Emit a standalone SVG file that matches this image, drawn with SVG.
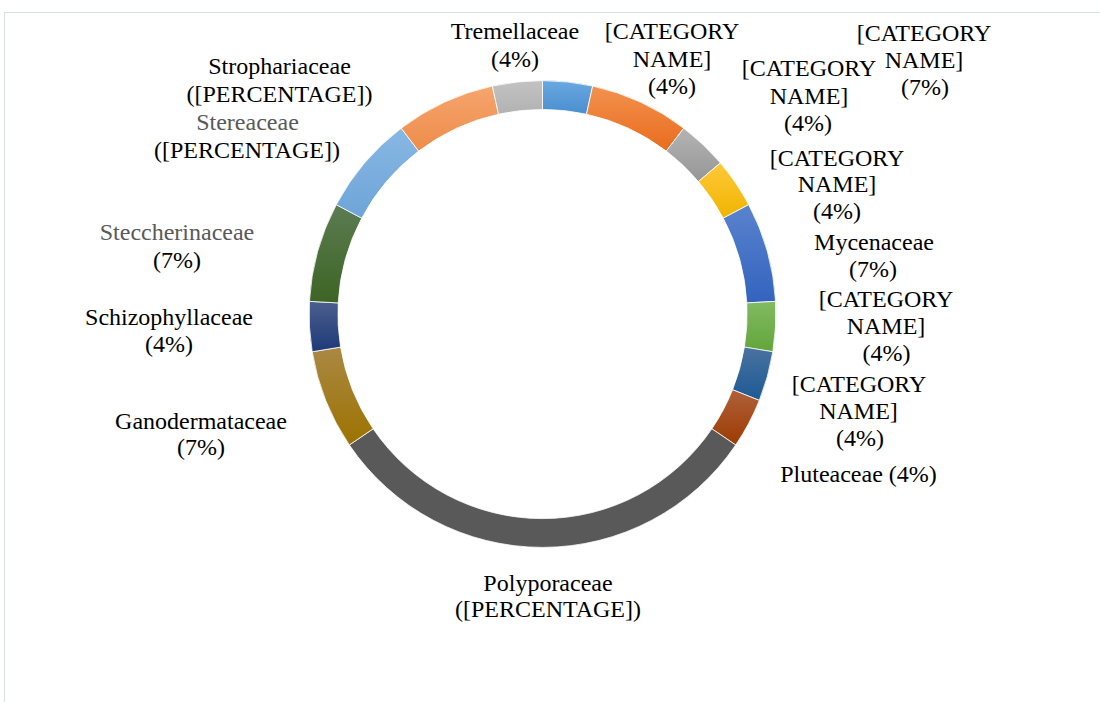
<svg xmlns="http://www.w3.org/2000/svg" width="1100" height="702" viewBox="0 0 1100 702">
<style>
.lbl{font-family:"Liberation Serif","Times New Roman",serif;font-size:24px;fill:#000;text-anchor:middle}
.gray{fill:#595959}
.seg{stroke:#ffffff;stroke-width:0.8;stroke-linejoin:round}
</style>
<defs>
<linearGradient id="g0" x1="0" y1="0" x2="0" y2="1"><stop offset="0" stop-color="#6aa9e0"/><stop offset="1" stop-color="#4a8ecf"/></linearGradient>
<linearGradient id="g1" x1="0" y1="0" x2="0" y2="1"><stop offset="0" stop-color="#f3914f"/><stop offset="1" stop-color="#e96c1d"/></linearGradient>
<linearGradient id="g2" x1="0" y1="0" x2="0" y2="1"><stop offset="0" stop-color="#b4b4b4"/><stop offset="1" stop-color="#969696"/></linearGradient>
<linearGradient id="g3" x1="0" y1="0" x2="0" y2="1"><stop offset="0" stop-color="#ffc93a"/><stop offset="1" stop-color="#f0b400"/></linearGradient>
<linearGradient id="g4" x1="0" y1="0" x2="0" y2="1"><stop offset="0" stop-color="#5a83cd"/><stop offset="1" stop-color="#3363bf"/></linearGradient>
<linearGradient id="g5" x1="0" y1="0" x2="0" y2="1"><stop offset="0" stop-color="#82bb62"/><stop offset="1" stop-color="#63a43a"/></linearGradient>
<linearGradient id="g6" x1="0" y1="0" x2="0" y2="1"><stop offset="0" stop-color="#4a72a0"/><stop offset="1" stop-color="#1c5a93"/></linearGradient>
<linearGradient id="g7" x1="0" y1="0" x2="0" y2="1"><stop offset="0" stop-color="#b0603c"/><stop offset="1" stop-color="#9c3c00"/></linearGradient>
<linearGradient id="g9" x1="0" y1="0" x2="0" y2="1"><stop offset="0" stop-color="#aa8844"/><stop offset="1" stop-color="#9c7300"/></linearGradient>
<linearGradient id="g10" x1="0" y1="0" x2="0" y2="1"><stop offset="0" stop-color="#4c5e8e"/><stop offset="1" stop-color="#1d3a77"/></linearGradient>
<linearGradient id="g11" x1="0" y1="0" x2="0" y2="1"><stop offset="0" stop-color="#5c7c52"/><stop offset="1" stop-color="#3d6424"/></linearGradient>
<linearGradient id="g12" x1="0" y1="0" x2="0" y2="1"><stop offset="0" stop-color="#88b8e4"/><stop offset="1" stop-color="#6ea4d8"/></linearGradient>
<linearGradient id="g13" x1="0" y1="0" x2="0" y2="1"><stop offset="0" stop-color="#f5a56e"/><stop offset="1" stop-color="#ee8c4a"/></linearGradient>
<linearGradient id="g14" x1="0" y1="0" x2="0" y2="1"><stop offset="0" stop-color="#c2c2c2"/><stop offset="1" stop-color="#b2b2b2"/></linearGradient>
</defs>
<rect x="0" y="0" width="1100" height="702" fill="#ffffff"/>
<rect x="4.5" y="12.5" width="1200" height="800" fill="none" stroke="#d9dee5" stroke-width="1"/>
<g id="connectors"></g>
<g id="seg-cat-a">
<path class="seg" fill="url(#g0)" d="M542.5,80.6 A233.4,233.4 0 0 1 592.67,86.06 L586.48,114.18 A204.6,204.6 0 0 0 542.5,109.4 Z"/>
<text class="lbl"><tspan x="672" y="39">[CATEGORY</tspan><tspan x="672" y="66.5">NAME]</tspan><tspan x="672" y="94">(4%)</tspan></text>
</g>
<g id="seg-cat-b">
<path class="seg" fill="url(#g1)" d="M592.67,86.06 A233.4,233.4 0 0 1 683.75,128.19 L666.32,151.12 A204.6,204.6 0 0 0 586.48,114.18 Z"/>
<text class="lbl"><tspan x="924" y="41">[CATEGORY</tspan><tspan x="924" y="68">NAME]</tspan><tspan x="925" y="95">(7%)</tspan></text>
</g>
<g id="seg-cat-c">
<path class="seg" fill="url(#g2)" d="M683.75,128.19 A233.4,233.4 0 0 1 720.39,162.90 L698.44,181.54 A204.6,204.6 0 0 0 666.32,151.12 Z"/>
<text class="lbl"><tspan x="809" y="76">[CATEGORY</tspan><tspan x="809" y="103.5">NAME]</tspan><tspan x="808" y="131">(4%)</tspan></text>
</g>
<g id="seg-cat-d">
<path class="seg" fill="url(#g3)" d="M720.39,162.90 A233.4,233.4 0 0 1 748.71,204.67 L723.27,218.16 A204.6,204.6 0 0 0 698.44,181.54 Z"/>
<text class="lbl"><tspan x="837" y="165.5">[CATEGORY</tspan><tspan x="837" y="192">NAME]</tspan><tspan x="837" y="218.5">(4%)</tspan></text>
</g>
<g id="seg-mycenaceae">
<path class="seg" fill="url(#g4)" d="M748.71,204.67 A233.4,233.4 0 0 1 775.56,301.36 L746.80,302.92 A204.6,204.6 0 0 0 723.27,218.16 Z"/>
<text class="lbl"><tspan x="874" y="250">Mycenaceae</tspan><tspan x="873" y="277">(7%)</tspan></text>
</g>
<g id="seg-cat-e">
<path class="seg" fill="url(#g5)" d="M775.56,301.36 A233.4,233.4 0 0 1 772.82,351.76 L744.40,347.10 A204.6,204.6 0 0 0 746.80,302.92 Z"/>
<text class="lbl"><tspan x="886" y="307">[CATEGORY</tspan><tspan x="886" y="334">NAME]</tspan><tspan x="886.5" y="361">(4%)</tspan></text>
</g>
<g id="seg-cat-f">
<path class="seg" fill="url(#g6)" d="M772.82,351.76 A233.4,233.4 0 0 1 759.32,400.39 L732.57,389.73 A204.6,204.6 0 0 0 744.40,347.10 Z"/>
<text class="lbl"><tspan x="859" y="392">[CATEGORY</tspan><tspan x="858.5" y="419">NAME]</tspan><tspan x="860" y="446">(4%)</tspan></text>
</g>
<g id="seg-pluteaceae">
<path class="seg" fill="url(#g7)" d="M759.32,400.39 A233.4,233.4 0 0 1 735.68,444.98 L711.85,428.82 A204.6,204.6 0 0 0 732.57,389.73 Z"/>
<text class="lbl" x="858.5" y="482">Pluteaceae (4%)</text>
</g>
<g id="seg-polyporaceae">
<path class="seg" fill="#595959" d="M735.68,444.98 A233.4,233.4 0 0 1 349.32,444.98 L373.15,428.82 A204.6,204.6 0 0 0 711.85,428.82 Z"/>
<text class="lbl"><tspan x="548" y="591">Polyporaceae</tspan><tspan x="548" y="617">([PERCENTAGE])</tspan></text>
</g>
<g id="seg-ganodermataceae">
<path class="seg" fill="url(#g9)" d="M349.32,444.98 A233.4,233.4 0 0 1 312.18,351.76 L340.60,347.10 A204.6,204.6 0 0 0 373.15,428.82 Z"/>
<text class="lbl"><tspan x="201" y="428.5">Ganodermataceae</tspan><tspan x="201" y="455">(7%)</tspan></text>
</g>
<g id="seg-schizophyllaceae">
<path class="seg" fill="url(#g10)" d="M312.18,351.76 A233.4,233.4 0 0 1 309.44,301.36 L338.20,302.92 A204.6,204.6 0 0 0 340.60,347.10 Z"/>
<text class="lbl"><tspan x="169" y="325">Schizophyllaceae</tspan><tspan x="169" y="352">(4%)</tspan></text>
</g>
<g id="seg-steccherinaceae">
<path class="seg" fill="url(#g11)" d="M309.44,301.36 A233.4,233.4 0 0 1 336.29,204.67 L361.73,218.16 A204.6,204.6 0 0 0 338.20,302.92 Z"/>
<text class="lbl"><tspan class="gray" x="177" y="240">Steccherinaceae</tspan><tspan x="177" y="268">(7%)</tspan></text>
</g>
<g id="seg-stereaceae">
<path class="seg" fill="url(#g12)" d="M336.29,204.67 A233.4,233.4 0 0 1 401.25,128.19 L418.68,151.12 A204.6,204.6 0 0 0 361.73,218.16 Z"/>
<text class="lbl"><tspan class="gray" x="247.5" y="130">Stereaceae</tspan><tspan x="247" y="158">([PERCENTAGE])</tspan></text>
</g>
<g id="seg-strophariaceae">
<path class="seg" fill="url(#g13)" d="M401.25,128.19 A233.4,233.4 0 0 1 492.33,86.06 L498.52,114.18 A204.6,204.6 0 0 0 418.68,151.12 Z"/>
<text class="lbl"><tspan x="279.5" y="73.5">Strophariaceae</tspan><tspan x="279.5" y="101.5">([PERCENTAGE])</tspan></text>
</g>
<g id="seg-tremellaceae">
<path class="seg" fill="url(#g14)" d="M492.33,86.06 A233.4,233.4 0 0 1 542.5,80.6 L542.5,109.4 A204.6,204.6 0 0 0 498.52,114.18 Z"/>
<text class="lbl"><tspan x="515" y="39">Tremellaceae</tspan><tspan x="515" y="66.5">(4%)</tspan></text>
</g>
</svg>
